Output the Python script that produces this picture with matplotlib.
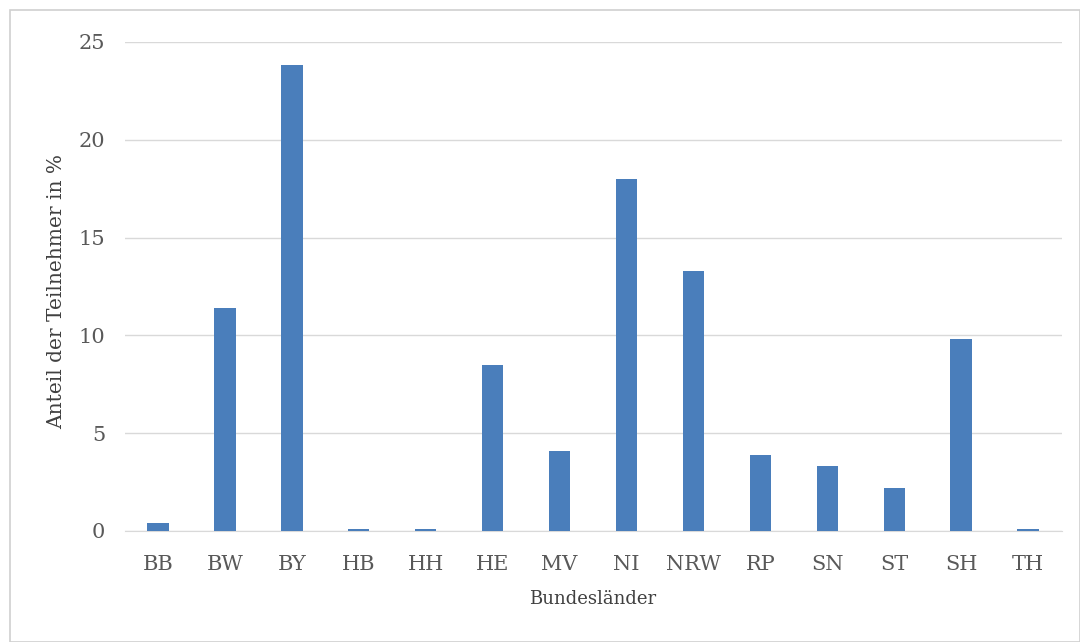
import matplotlib.pyplot as plt
import matplotlib.patches as patches

laender = ['BB', 'BW', 'BY', 'HB', 'HH', 'HE', 'MV', 'NI', 'NRW', 'RP', 'SN', 'ST', 'SH', 'TH']
anteil = [0.4, 11.4, 23.8, 0.1, 0.1, 8.5, 4.1, 18.0, 13.3, 3.9, 3.3, 2.2, 9.8, 0.1]
yticks = [0, 5, 10, 15, 20, 25]

plt.rcParams['font.family'] = ['DejaVu Serif']

fig = plt.figure(figsize=(10.8, 6.42), dpi=100)
ax = fig.add_axes([0.1153, 0.1729, 0.8676, 0.7617])

# Rahmen um die Grafik
rahmen = patches.Rectangle((10/1080, 0), 1 - 10/1080, 1 - 10/642, transform=fig.transFigure,
                           fill=False, edgecolor='#d0d0d0', linewidth=1.2)
fig.patches.append(rahmen)

x = range(len(laender))
ax.bar(x, anteil, width=0.32, color='#4a7ebb', zorder=3)

ax.set_xlim(-0.5, len(laender) - 0.5)
ax.set_ylim(0, 25)
ax.set_yticks(yticks)
ax.set_xticks(list(x))
ax.set_xticklabels(laender)
ax.grid(axis='y', color='#d9d9d9', linewidth=1, zorder=0)

for s in ['top', 'right', 'left']:
    ax.spines[s].set_visible(False)
ax.spines['bottom'].set_color('#d9d9d9')
ax.tick_params(axis='both', length=0, labelsize=15, colors='#595959')
ax.tick_params(axis='x', pad=17)
ax.tick_params(axis='y', pad=14)

ax.set_xlabel('Bundesländer', fontsize=13, color='#404040', labelpad=12)
ax.set_ylabel('Anteil der Teilnehmer in %', fontsize=14.5, color='#404040')
ax.yaxis.set_label_coords(-0.062, 0.49)

fig.savefig('out.png', dpi=100)
